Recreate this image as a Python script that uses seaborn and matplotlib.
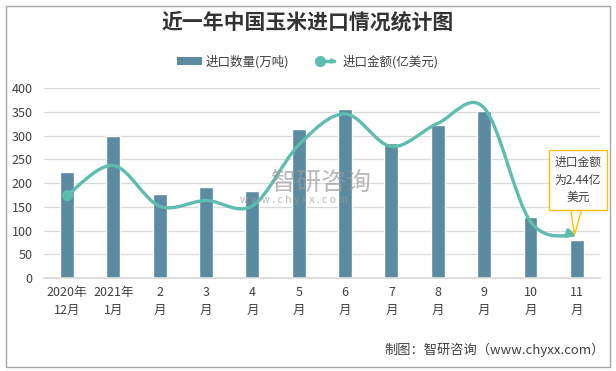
import numpy as np
import pandas as pd
import matplotlib
matplotlib.use("Agg")
import matplotlib.pyplot as plt
import seaborn as sns
from matplotlib.path import Path
from matplotlib.patches import FancyArrowPatch, Rectangle, Patch
from matplotlib.lines import Line2D
from matplotlib.legend_handler import HandlerBase

# data
months = ["2020年\n12月", "2021年\n1月", "2\n月", "3\n月", "4\n月", "5\n月",
          "6\n月", "7\n月", "8\n月", "9\n月", "10\n月", "11\n月"]
qty = [224, 300, 177, 192, 184, 314, 356, 285, 323, 352, 129, 79]          # 万吨
amount = [4.83, 6.58, 4.2, 4.53, 4.22, 7.78, 9.6, 7.69, 9.05, 9.95, 3.3, 2.44]  # 亿美元

bar_color = "#5A8BA0"
teal = "#5DBDB0"

sns.set_theme(style="white")
plt.rcParams['font.family'] = ['Noto Sans CJK SC', 'DejaVu Sans']

df = pd.DataFrame({"month": months, "qty": qty, "amount": amount})

fig = plt.figure(figsize=(6.16, 3.71), dpi=100)
ax = fig.add_axes([0.0711, 0.2507, 0.9029, 0.512])

sns.barplot(data=df, x="month", y="qty", color=bar_color, saturation=1,
            width=0.3, ax=ax, zorder=2)
ax.set_ylim(0, 400)
ax.set_yticks(range(0, 401, 50))
ax.set_xlim(-0.5, len(months) - 0.5)
ax.grid(axis="y", color="#D9D9D9", lw=0.9, zorder=0)
ax.set_axisbelow(True)
for s in ["top", "right", "left"]:
    ax.spines[s].set_visible(False)
ax.spines["bottom"].set_color("#D9D9D9")
ax.tick_params(axis="both", length=0, labelsize=9, colors="#404040")
ax.tick_params(axis="y", pad=8)
ax.tick_params(axis="x", pad=6)
ax.set_xlabel("")
ax.set_ylabel("")
for lab in ax.get_xticklabels():
    lab.set_linespacing(1.5)

# secondary hidden axis for amount
ax2 = ax.twinx()
ax2.set_ylim(0, 400 / 36)
ax2.set_yticks([])
for s in ax2.spines.values():
    s.set_visible(False)

# smooth line (Bezier through the points, like Excel smoothing)
xs = np.arange(len(amount), dtype=float)
ys = np.array(amount, dtype=float)
pts = np.column_stack([xs, ys])
ext = np.vstack([pts[0], pts, pts[-1]])
verts = [pts[0]]
codes = [Path.MOVETO]
for i in range(len(pts) - 1):
    p0, p1, p2, p3 = ext[i], ext[i + 1], ext[i + 2], ext[i + 3]
    c1 = p1 + (p2 - p0) / 6
    c2 = p2 - (p3 - p1) / 6
    verts += [c1, c2, p2]
    codes += [Path.CURVE4] * 3
curve = FancyArrowPatch(path=Path(verts, codes), arrowstyle="-|>", mutation_scale=12,
                        color=teal, lw=2.4, transform=ax2.transData, zorder=3)
ax2.add_patch(curve)
ax2.plot(xs[0], ys[0], "o", color=teal, ms=7, zorder=4)

# watermark
fig.text(0.44, 0.508, "智研咨询", fontsize=18, color="#9A9A9A", alpha=0.7, ha="left", va="center")
fig.text(0.39, 0.462, "w w w . c h y x x . c o m", fontsize=7.5, color="#9A9A9A", alpha=0.7,
         ha="left", va="center")

# callout
ax2.annotate("进口金额\n为2.44亿\n美元", xy=(xs[-1] - 0.05, ys[-1] + 0.1),
             xytext=(578, 191), textcoords="figure pixels",
             ha="center", va="center", fontsize=8.5, color="#404040", linespacing=1.45,
             bbox=dict(boxstyle="square,pad=0.5", fc="white", ec="#FFC000", lw=1),
             arrowprops=dict(arrowstyle="wedge,tail_width=0.9,shrink_factor=0.5",
                             fc="white", ec="#FFC000", lw=1, shrinkA=0, shrinkB=0),
             zorder=6)

# legend
class ArrowLineHandler(HandlerBase):
    def create_artists(self, legend, orig_handle, xdescent, ydescent, width, height,
                       fontsize, trans):
        y = height / 2 - ydescent
        x0 = -xdescent
        line = Line2D([x0 + 3, x0 + width - 4], [y, y], color=teal, lw=2.5, transform=trans)
        dot = Line2D([x0 + 4], [y], marker="o", ms=7, color=teal, transform=trans)
        head = FancyArrowPatch((x0 + width * 0.6, y), (x0 + width, y), arrowstyle="-|>",
                               mutation_scale=11, color=teal, lw=0, transform=trans)
        return [line, dot, head]

bar_handle = Patch(facecolor=bar_color, edgecolor="none")
line_handle = Line2D([], [], color=teal)
fig.legend([bar_handle, line_handle], ["进口数量(万吨)", "进口金额(亿美元)"],
           handler_map={Line2D: ArrowLineHandler()},
           loc="center", bbox_to_anchor=(0.5, 0.834), ncol=2, frameon=False,
           fontsize=9, handlelength=2.0, handleheight=0.6, handletextpad=0.3,
           columnspacing=2.0, labelcolor="#404040")

fig.text(0.5, 0.94, "近一年中国玉米进口情况统计图", fontsize=15, fontweight="bold",
         color="#333333", ha="center", va="center")
fig.text(0.982, 0.057, "制图：智研咨询（www.chyxx.com）", fontsize=9.5, color="#404040",
         ha="right", va="center")

fig.patches.append(Rectangle((0.01, 0.01), 0.98, 0.975, transform=fig.transFigure,
                             fill=False, ec="#A6A6A6", lw=1))

fig.savefig("out.png", dpi=100, facecolor="white")
